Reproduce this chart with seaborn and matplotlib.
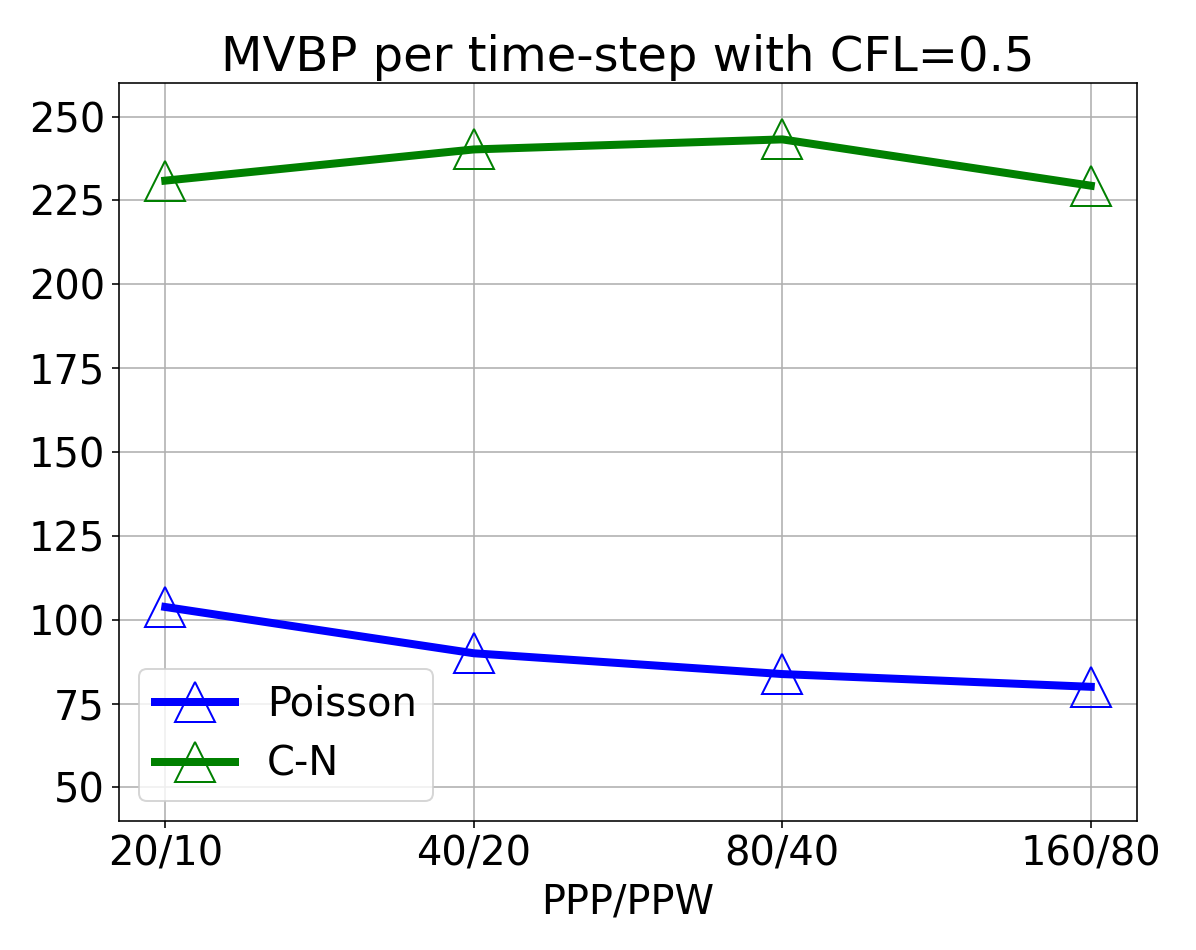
import pandas as pd
import matplotlib
matplotlib.use("Agg")
import matplotlib.pyplot as plt
import seaborn as sns

# Data
resolutions = ["20/10", "40/20", "80/40", "160/80"]
poisson_mvbp = [103.8, 90.0, 83.8, 80.0]
cn_mvbp = [230.9, 240.2, 243.2, 229.4]

df = pd.DataFrame({
    "res": resolutions * 2,
    "mvbp": poisson_mvbp + cn_mvbp,
    "method": ["Poisson"] * 4 + ["C-N"] * 4,
})

fig, ax = plt.subplots(figsize=(1196 / 144, 950 / 144), dpi=144)
fig.subplots_adjust(left=0.0995, right=0.9507, bottom=0.1358, top=0.9126)

colors = {"Poisson": "blue", "C-N": "green"}
for name in ["Poisson", "C-N"]:
    sub = df[df["method"] == name]
    sns.lineplot(data=sub, x="res", y="mvbp", ax=ax, label=name,
                 color=colors[name], linewidth=4, marker="^", markersize=20,
                 markerfacecolor="none", markeredgecolor=colors[name],
                 markeredgewidth=1)

ax.set_ylim(40, 260)
ax.set_yticks(range(50, 251, 25))
ax.grid(True)
ax.set_axisbelow(True)
ax.tick_params(labelsize=20)
ax.set_xlabel("PPP/PPW", fontsize=20)
ax.set_ylabel("")
ax.set_title("MVBP per time-step with CFL=0.5", fontsize=24)
ax.legend(loc="lower left", fontsize=20)

fig.savefig("out.png", dpi=144)
